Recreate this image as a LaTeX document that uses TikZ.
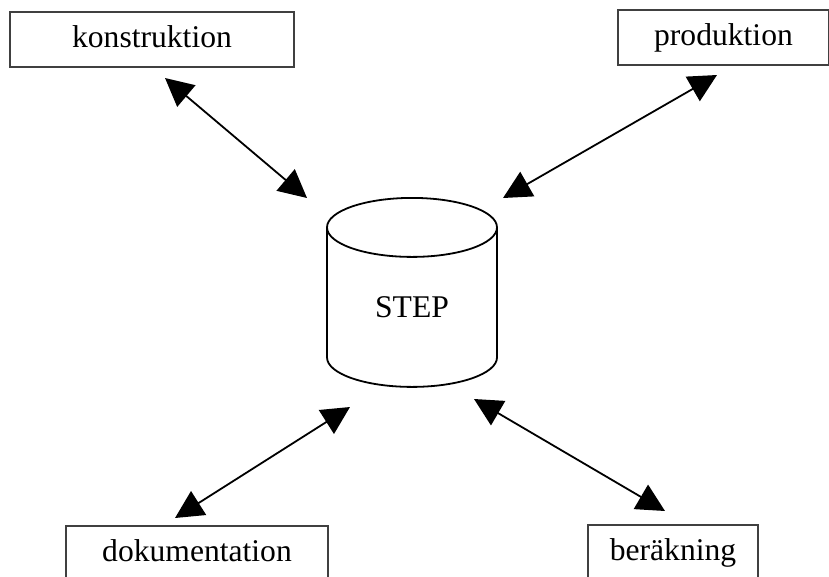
\documentclass[tikz,border=0pt]{standalone}
\usepackage{fontspec}
\setmainfont{Liberation Serif}
\usetikzlibrary{arrows.meta,shapes.geometric}

\begin{document}
\begin{tikzpicture}[x=1pt, y=-1pt, >={Triangle[length=28pt,width=28pt]},
   box/.style={draw=black!75, line width=1.2pt, minimum height=55pt, inner sep=0pt,
               text height=22pt, text depth=7pt},
   link/.style={<->, line width=1.8pt},
   font=\fontsize{31.6}{38}\selectfont]
   \useasboundingbox (0,0) rectangle (829,576);
   \node[box, minimum width=284pt] (kon)  at (152,39.5)  {konstruktion};
   \node[box, minimum width=211pt] (prod) at (723.5,37.5) {produktion};
   \node[box, minimum width=262pt] (dok)  at (197,553.5) {dokumentation};
   \node[box, minimum width=170pt] (ber)  at (673,552.5) {beräkning};
   \node[cylinder, shape border rotate=90, draw, line width=1.8pt, minimum width=170pt,
         minimum height=189pt, aspect=0.8, inner sep=0pt, anchor=north] (step) at (412,197) {STEP};
   \coordinate (kon-end)  at (165,78);
   \coordinate (step-nw)  at (307,198);
   \coordinate (prod-end) at (717,75);
   \coordinate (step-ne)  at (503,198);
   \coordinate (dok-end)  at (175,518);
   \coordinate (step-sw)  at (350,407);
   \coordinate (ber-end)  at (665,511);
   \coordinate (step-se)  at (474,399);
   \path[link]
    (kon-end)  edge (step-nw)
    (prod-end) edge (step-ne)
    (dok-end)  edge (step-sw)
    (ber-end)  edge (step-se);
\end{tikzpicture}
\end{document}
